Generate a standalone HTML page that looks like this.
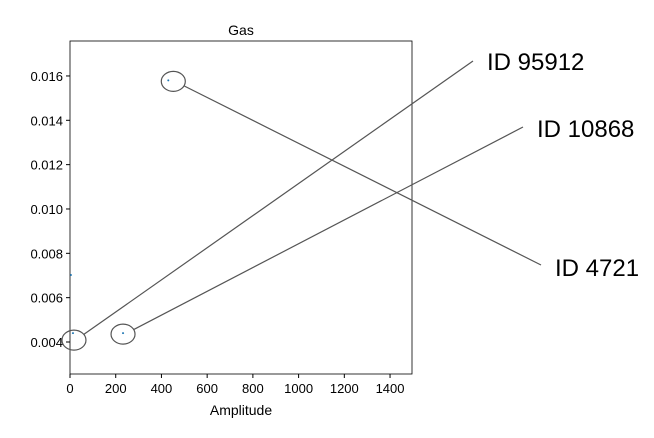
<!DOCTYPE html>
<html><head><meta charset="utf-8"><style>
body{margin:0;background:#fff;}
svg{display:block;font-family:"Liberation Sans",sans-serif;}
</style></head><body>
<svg id="chart" width="654" height="438">
<rect x="70" y="41" width="342" height="333" fill="none" stroke="#000" stroke-width="0.8"/>
<text x="241" y="35" font-size="14" text-anchor="middle">Gas</text>
<text x="241" y="415" font-size="14" text-anchor="middle">Amplitude</text>
<g id="xt"></g><g id="yt"></g><g id="marks"></g>
</svg>
<script>
const xTicks=[0,200,400,600,800,1000,1200,1400];
const yTicks=[0.004,0.006,0.008,0.010,0.012,0.014,0.016];
const yLabels=["0.004","0.006","0.008","0.010","0.012","0.014","0.016"];
const xVals=[4,13,232,430];
const yVals=[0.00702,0.0044,0.0044,0.0158];
const annIdx=[1,2,3];
const annLabels=["ID 95912","ID 10868","ID 4721"];
const NS="http://www.w3.org/2000/svg";
const X=v=>70+v*0.2286;
const Y=v=>342-(v-0.004)*22170;
function mk(t,a,p){const e=document.createElementNS(NS,t);for(const k in a)e.setAttribute(k,a[k]);p.appendChild(e);return e;}
const xt=document.getElementById('xt'),yt=document.getElementById('yt'),m=document.getElementById('marks');
xTicks.forEach(v=>{
 const l=mk('line',{x1:X(v),x2:X(v),y1:374,y2:378,stroke:'#000'},xt);
 
 
 const t=mk('text',{x:X(v),y:393,'font-size':13,'text-anchor':'middle'},xt);t.textContent=v;
 
 
});
yTicks.forEach((v,i)=>{
 const l=mk('line',{x1:66,x2:70,y1:Y(v),y2:Y(v),stroke:'#000'},yt);
 
 
 const t=mk('text',{x:63,y:Y(v)+5,'font-size':13,'text-anchor':'end'},yt);t.textContent=yLabels[i];
 
 
});
xVals.forEach((v,i)=>{
 const c=mk('circle',{cx:X(v),cy:Y(yVals[i]),r:1,fill:'#1f77b4'},m);
 
 
});
const ends=[[473,61],[523,127],[541,265]];
const lpos=[[487,70],[537,137],[555,276]];
annIdx.forEach((idx,k)=>{
 const cx=X(xVals[idx])+(k==0?1:0)+(k==2?5:0),cy=Y(yVals[idx])+(k==0?7:1);
 const e=mk('ellipse',{cx:cx,cy:cy,rx:12,ry:10,fill:'none',stroke:'#555','stroke-width':1.2},m);
 
 
 const ang=Math.atan2(ends[k][1]-cy,ends[k][0]-cx);
 const l=mk('line',{x1:cx+12*Math.cos(ang),y1:cy+10*Math.sin(ang),x2:ends[k][0],y2:ends[k][1],stroke:'#555','stroke-width':1.2},m);
 
 
 const t=mk('text',{x:lpos[k][0],y:lpos[k][1],'font-size':24},m);t.textContent=annLabels[k];
 
 
});
</script>
</body></html>
